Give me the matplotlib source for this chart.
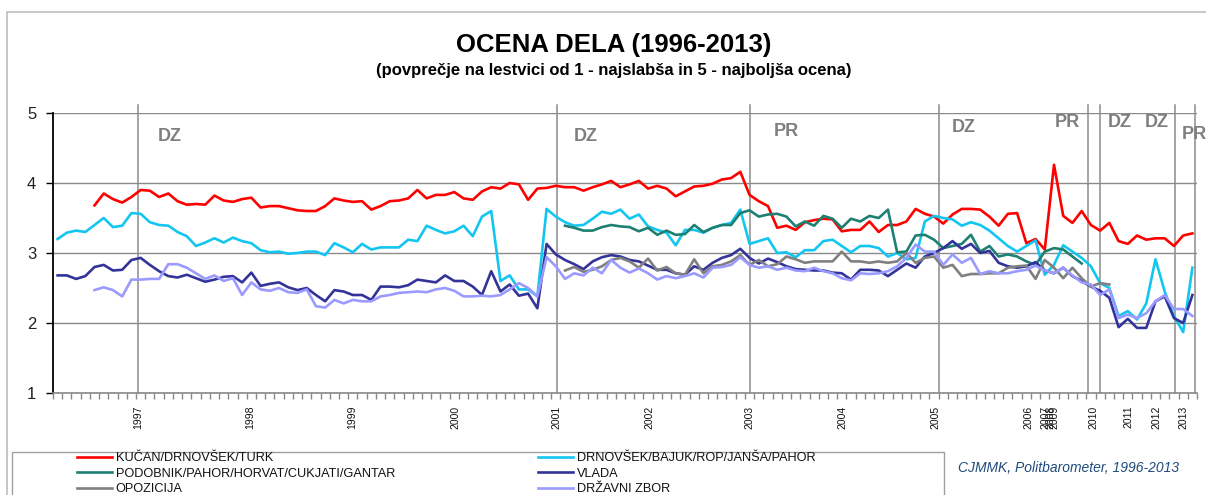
import numpy as np
import matplotlib.pyplot as plt
from matplotlib.patches import Rectangle

plt.rcParams['font.family'] = ['Liberation Sans', 'DejaVu Sans']

# ==========================================
# Data (one value per survey, category axis)
# ==========================================
N_SURVEYS = 124

kucan_start = 4
kucan = [3.68, 3.85, 3.77, 3.72, 3.80, 3.90, 3.89, 3.80, 3.85, 3.74,
         3.69, 3.70, 3.69, 3.82, 3.75, 3.73, 3.77, 3.79, 3.65, 3.67,
         3.67, 3.64, 3.61, 3.60, 3.60, 3.67, 3.78, 3.75, 3.73, 3.74,
         3.62, 3.67, 3.74, 3.75, 3.78, 3.90, 3.78, 3.83, 3.83, 3.87,
         3.78, 3.76, 3.88, 3.94, 3.92, 4.00, 3.98, 3.76, 3.92, 3.93,
         3.96, 3.94, 3.94, 3.89, 3.94, 3.98, 4.03, 3.94, 3.98, 4.03,
         3.92, 3.96, 3.92, 3.81, 3.88, 3.95, 3.96, 3.99, 4.05, 4.07,
         4.16, 3.83, 3.74, 3.67, 3.36, 3.39, 3.33, 3.44, 3.47, 3.49,
         3.48, 3.31, 3.33, 3.33, 3.45, 3.30, 3.40, 3.40, 3.45, 3.63,
         3.56, 3.52, 3.42, 3.55, 3.63, 3.63, 3.62, 3.52, 3.39, 3.56,
         3.57, 3.14, 3.20, 3.05, 4.26, 3.53, 3.43, 3.60, 3.40, 3.32,
         3.43, 3.17, 3.13, 3.25, 3.19, 3.21, 3.21, 3.10, 3.25, 3.28]

drnovsek_start = 0
drnovsek = [3.20, 3.29, 3.32, 3.30, 3.40, 3.50, 3.37, 3.39, 3.57, 3.56,
            3.44, 3.40, 3.39, 3.30, 3.24, 3.10, 3.15, 3.21, 3.15, 3.22,
            3.17, 3.14, 3.04, 3.01, 3.02, 2.99, 3.00, 3.02, 3.02, 2.97,
            3.14, 3.08, 3.01, 3.13, 3.05, 3.08, 3.08, 3.08, 3.19, 3.17,
            3.39, 3.33, 3.28, 3.31, 3.39, 3.24, 3.52, 3.60, 2.60, 2.68,
            2.48, 2.48, 2.38, 3.63, 3.52, 3.44, 3.39, 3.40, 3.49, 3.59,
            3.56, 3.62, 3.49, 3.55, 3.38, 3.33, 3.29, 3.11, 3.33, 3.33,
            3.29, 3.36, 3.40, 3.43, 3.62, 3.13, 3.17, 3.21, 3.00, 3.01,
            2.94, 3.04, 3.04, 3.17, 3.19, 3.10, 3.01, 3.10, 3.10, 3.07,
            2.95, 3.00, 2.91, 2.93, 3.45, 3.53, 3.50, 3.48, 3.39, 3.44,
            3.40, 3.32, 3.21, 3.10, 3.02, 3.10, 3.18, 2.69, 2.83, 3.11,
            3.02, 2.93, 2.81, 2.57, 2.50, 2.10, 2.17, 2.05, 2.28, 2.91,
            2.45, 2.10, 1.87, 2.79]

podobnik_start = 55
podobnik = [3.39, 3.36, 3.32, 3.32, 3.37, 3.40, 3.38, 3.37, 3.31, 3.36,
            3.26, 3.32, 3.26, 3.27, 3.40, 3.30, 3.36, 3.40, 3.40, 3.57,
            3.61, 3.52, 3.55, 3.56, 3.52, 3.38, 3.45, 3.39, 3.53, 3.49,
            3.36, 3.49, 3.45, 3.53, 3.50, 3.62, 3.01, 3.02, 3.25, 3.26,
            3.19, 3.07, 3.10, 3.13, 3.26, 3.02, 3.10, 2.95, 2.98, 2.95,
            2.88, 2.83, 3.02, 3.07, 3.05, 2.95, 2.85]

vlada_start = 0
vlada = [2.68, 2.68, 2.63, 2.67, 2.80, 2.83, 2.75, 2.76, 2.90, 2.93,
         2.83, 2.74, 2.67, 2.65, 2.69, 2.64, 2.59, 2.62, 2.66, 2.67,
         2.58, 2.72, 2.53, 2.56, 2.58, 2.51, 2.47, 2.50, 2.40, 2.31,
         2.47, 2.45, 2.40, 2.40, 2.33, 2.52, 2.52, 2.51, 2.54, 2.62,
         2.60, 2.58, 2.68, 2.60, 2.60, 2.52, 2.40, 2.74, 2.45, 2.55,
         2.39, 2.42, 2.21, 3.13, 2.98, 2.90, 2.84, 2.77, 2.88, 2.94,
         2.97, 2.95, 2.90, 2.88, 2.82, 2.76, 2.76, 2.71, 2.69, 2.81,
         2.76, 2.86, 2.93, 2.97, 3.06, 2.93, 2.85, 2.92, 2.87, 2.81,
         2.77, 2.76, 2.75, 2.75, 2.72, 2.71, 2.62, 2.76, 2.76, 2.75,
         2.67, 2.76, 2.85, 2.79, 2.95, 3.00, 3.07, 3.17, 3.06, 3.13,
         3.00, 3.03, 2.86, 2.81, 2.79, 2.81, 2.87, 2.75, 2.71, 2.79,
         2.67, 2.60, 2.52, 2.46, 2.36, 1.94, 2.06, 1.93, 1.93, 2.31,
         2.38, 2.07, 2.00, 2.40]

opozicija_start = 55
opozicija = [2.75, 2.80, 2.73, 2.76, 2.81, 2.90, 2.93, 2.88, 2.79, 2.92,
             2.75, 2.80, 2.71, 2.69, 2.91, 2.71, 2.81, 2.83, 2.88, 2.97,
             2.83, 2.90, 2.81, 2.84, 2.95, 2.91, 2.86, 2.88, 2.88, 2.88,
             3.02, 2.88, 2.88, 2.86, 2.88, 2.86, 2.88, 3.00, 2.86, 2.93,
             2.95, 2.79, 2.83, 2.67, 2.70, 2.70, 2.71, 2.71, 2.79, 2.81,
             2.82, 2.63, 2.90, 2.79, 2.64, 2.79, 2.64, 2.52, 2.57, 2.55]

dz_start = 4
drzavni_zbor = [2.47, 2.51, 2.47, 2.38, 2.62, 2.62, 2.63, 2.63, 2.84, 2.84,
                2.79, 2.71, 2.63, 2.68, 2.60, 2.64, 2.40, 2.58, 2.48, 2.46,
                2.50, 2.44, 2.43, 2.48, 2.24, 2.22, 2.33, 2.28, 2.33, 2.31,
                2.31, 2.38, 2.40, 2.43, 2.44, 2.45, 2.44, 2.48, 2.50, 2.46,
                2.38, 2.38, 2.39, 2.38, 2.40, 2.48, 2.57, 2.50, 2.38, 2.94,
                2.81, 2.63, 2.71, 2.68, 2.79, 2.71, 2.90, 2.79, 2.72, 2.78,
                2.71, 2.62, 2.67, 2.64, 2.67, 2.71, 2.65, 2.79, 2.80, 2.83,
                2.94, 2.83, 2.79, 2.81, 2.76, 2.79, 2.75, 2.74, 2.79, 2.74,
                2.71, 2.64, 2.61, 2.71, 2.70, 2.71, 2.74, 2.81, 2.93, 3.12,
                3.02, 3.02, 2.83, 2.98, 2.86, 2.93, 2.70, 2.74, 2.71, 2.71,
                2.74, 2.76, 2.82, 2.75, 2.71, 2.79, 2.68, 2.58, 2.55, 2.40,
                2.48, 2.07, 2.12, 2.07, 2.14, 2.31, 2.40, 2.20, 2.20, 2.10]

series_names = ["KUČAN/DRNOVŠEK/TURK", "DRNOVŠEK/BAJUK/ROP/JANŠA/PAHOR",
                "PODOBNIK/PAHOR/HORVAT/CUKJATI/GANTAR", "VLADA",
                "OPOZICIJA", "DRŽAVNI ZBOR"]
series_colors = ["#ff0000", "#13c6f2", "#1e8072", "#333399", "#808080", "#9a9aff"]

# year labels (first survey of each year on the category axis)
year_labels = ["1997", "1998", "1999", "2000", "2001", "2002", "2003", "2004",
               "2005", "2006", "2007", "2008", "2009", "2010", "2011", "2012", "2013"]
year_pos = [9.2, 21.4, 32.4, 43.6, 54.6, 64.6, 75.5, 85.6,
            95.6, 105.7, 107.6, 108.1, 108.6, 112.8, 116.6, 119.6, 122.5]

# elections: DZ = parliament, PR = president
event_pos = [9.2, 54.6, 75.5, 96.0, 112.2, 113.5, 121.6, 123.8]
event_labels = ["DZ", "DZ", "PR", "DZ", "PR", "DZ", "DZ", "PR"]
event_label_x = [11.4, 56.4, 78.1, 97.4, 108.6, 114.3, 118.3, 122.3]
event_label_y = [4.67, 4.66, 4.74, 4.80, 4.86, 4.86, 4.87, 4.69]


def pad(start, vals):
    arr = np.full(N_SURVEYS, np.nan)
    arr[start:start + len(vals)] = vals
    return arr


# ==========================================
# Figure
# ==========================================
W, H = 1206, 495
fig = plt.figure(figsize=(W / 100, H / 100), dpi=100)
ax = fig.add_axes([53 / W, 1 - 393 / H, (1197 - 53) / W, (393 - 113) / H])

x = np.arange(N_SURVEYS) + 0.5
data = [pad(kucan_start, kucan), pad(drnovsek_start, drnovsek),
        pad(podobnik_start, podobnik), pad(vlada_start, vlada),
        pad(opozicija_start, opozicija), pad(dz_start, drzavni_zbor)]

lines = []
for y, name, col in zip(data, series_names, series_colors):
    ln, = ax.plot(x, y, color=col, lw=1.9, label=name, zorder=3)
    lines.append(ln)

# election markers
for p in event_pos:
    ax.plot([p, p], [1, 5.11], color="#8c8c8c", lw=1.1, zorder=2, clip_on=False)
for lab, lx, ly in zip(event_labels, event_label_x, event_label_y):
    ax.text(lx, ly, lab, color="#7f7f7f", fontsize=13, fontweight="bold",
            ha="left", va="center", clip_on=False)

ax.set_xlim(0, N_SURVEYS)
ax.set_ylim(1, 5)
ax.set_yticks([1, 2, 3, 4, 5])
ax.set_yticklabels(["1", "2", "3", "4", "5"], fontsize=12, color="#222222")
ax.grid(axis="y", color="#8a8a8a", lw=1)
ax.set_axisbelow(True)

ax.set_xticks(year_pos)
ax.set_xticklabels(year_labels, rotation=90, fontsize=7.5, color="#111111")
ax.set_xticks(np.arange(N_SURVEYS + 1), minor=True)
ax.tick_params(axis="x", which="major", length=0, pad=9)
ax.tick_params(axis="x", which="minor", length=4, color="#8a8a8a", width=1)
ax.tick_params(axis="y", length=5, width=1, pad=7)

for s in ["top", "right"]:
    ax.spines[s].set_visible(False)
ax.spines["left"].set_color("#000000")
ax.spines["left"].set_linewidth(1.3)
ax.spines["bottom"].set_color("#8a8a8a")
ax.spines["bottom"].set_linewidth(1.2)

# titles
fig.text(0.509, 1 - 45 / H, "OCENA DELA (1996-2013)", ha="center", va="center",
         fontsize=18.5, fontweight="bold")
fig.text(0.509, 1 - 70 / H,
         "(povprečje na lestvici od 1 - najslabša in 5 - najboljša ocena)",
         ha="center", va="center", fontsize=12, fontweight="bold")

# outer chart frame (runs off the right and bottom edges) and legend box
fig.add_artist(Rectangle((7 / W, -0.05), 1.0, 1.05 - 12 / H,
                         transform=fig.transFigure, fill=False,
                         edgecolor="#bdbdbd", lw=1.2))
fig.add_artist(Rectangle((12 / W, -0.05), (944 - 12) / W, (0.05 + 1 - 452 / H),
                         transform=fig.transFigure, fill=False, edgecolor="#a0a0a0", lw=1))

order = [0, 2, 4, 1, 3, 5]
leg = fig.legend([lines[i] for i in order], [series_names[i] for i in order],
                 ncol=2, loc="upper left", bbox_to_anchor=(71 / W, 1 - 446 / H),
                 frameon=False, fontsize=9.2, handlelength=2.7, handletextpad=0.3,
                 labelspacing=0.26, columnspacing=11.2, borderpad=0.0)
for t in leg.get_texts():
    t.set_color("#111111")

fig.text(958 / W, 1 - 468 / H, "CJMMK, Politbarometer, 1996-2013", ha="left",
         va="center", fontsize=10, style="italic", color="#1f4a7d")

fig.savefig("out.png", dpi=100)
